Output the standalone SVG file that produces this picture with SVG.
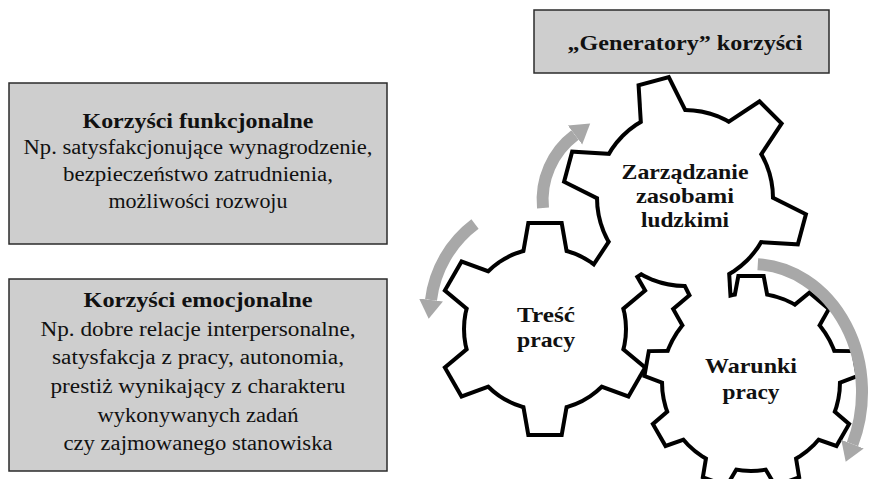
<svg xmlns="http://www.w3.org/2000/svg" width="869" height="479" viewBox="0 0 869 479">
<style>
.box{fill:#cecece;stroke:#2b2b2b;stroke-width:1.5}
.t{font-family:"Liberation Serif","Times New Roman",serif;font-size:20.5px;fill:#111;text-anchor:middle}
.b{font-weight:bold}
.h{font-size:22px}
.g{font-family:"Liberation Serif","Times New Roman",serif;font-size:21px;font-weight:bold;fill:#111;text-anchor:middle}
.gf{fill:#fff;stroke:none}
.arr{fill:none;stroke:#a8a8a8;stroke-width:12;marker-end:url(#ah)}
</style>
<defs>
<marker id="ah" markerUnits="userSpaceOnUse" markerWidth="20" markerHeight="26" viewBox="0 -13 20 26" refX="0" refY="0" orient="auto">
<path d="M0,-12 L19,0 L0,12 Z" fill="#a8a8a8"/>
</marker>
<polygon id="tA" points="70,-24 119,-14 119,14 70,24"/>
<polygon id="tB" points="64,-22 104,-15 104,15 64,22"/>
<polygon id="tC" points="72,-17 104,-11 104,11 72,17"/>
<g id="gearA">
<circle r="86"/>
<use href="#tA" transform="rotate(-105)"/>
<use href="#tA" transform="rotate(-45)"/>
<use href="#tA" transform="rotate(15)"/>
<use href="#tA" transform="rotate(75)"/>
<use href="#tA" transform="rotate(135)"/>
<use href="#tA" transform="rotate(195)"/>
</g>
<g id="gearB">
<circle r="79"/>
<use href="#tB" transform="rotate(-90)"/>
<use href="#tB" transform="rotate(-30)"/>
<use href="#tB" transform="rotate(30)"/>
<use href="#tB" transform="rotate(90)"/>
<use href="#tB" transform="rotate(150)"/>
<use href="#tB" transform="rotate(210)"/>
</g>
<g id="gearC">
<circle r="87"/>
<use href="#tC" transform="rotate(-90)"/>
<use href="#tC" transform="rotate(-50)"/>
<use href="#tC" transform="rotate(-10)"/>
<use href="#tC" transform="rotate(30)"/>
<use href="#tC" transform="rotate(70)"/>
<use href="#tC" transform="rotate(110)"/>
<use href="#tC" transform="rotate(150)"/>
<use href="#tC" transform="rotate(190)"/>
<use href="#tC" transform="rotate(230)"/>
</g>
</defs>

<g id="box-generatory">
<rect class="box" x="534" y="10" width="295" height="63"/>
<text class="t b h" x="685" y="50" textLength="235" lengthAdjust="spacingAndGlyphs">„Generatory” korzyści</text>
</g>

<g id="box-funkcjonalne">
<rect class="box" x="9" y="83" width="378" height="161"/>
<text class="t b" x="198" y="128" textLength="231" lengthAdjust="spacingAndGlyphs">Korzyści funkcjonalne</text>
<text class="t" x="198" y="154" textLength="349" lengthAdjust="spacingAndGlyphs">Np. satysfakcjonujące wynagrodzenie,</text>
<text class="t" x="198" y="181" textLength="270" lengthAdjust="spacingAndGlyphs">bezpieczeństwo zatrudnienia,</text>
<text class="t" x="198" y="208" textLength="179" lengthAdjust="spacingAndGlyphs">możliwości rozwoju</text>
</g>

<g id="box-emocjonalne">
<rect class="box" x="9" y="279" width="378" height="192"/>
<text class="t b" x="198" y="307" textLength="229" lengthAdjust="spacingAndGlyphs">Korzyści emocjonalne</text>
<text class="t" x="198" y="336" textLength="315" lengthAdjust="spacingAndGlyphs">Np. dobre relacje interpersonalne,</text>
<text class="t" x="198" y="364" textLength="292" lengthAdjust="spacingAndGlyphs">satysfakcja z pracy, autonomia,</text>
<text class="t" x="198" y="393" textLength="295" lengthAdjust="spacingAndGlyphs">prestiż wynikający z charakteru</text>
<text class="t" x="198" y="422" textLength="201" lengthAdjust="spacingAndGlyphs">wykonywanych zadań</text>
<text class="t" x="198" y="450" textLength="269" lengthAdjust="spacingAndGlyphs">czy zajmowanego stanowiska</text>
</g>

<g id="gear-outlines" fill="#000" stroke="#000" stroke-width="8" stroke-linejoin="miter">
<use href="#gearB" transform="translate(545,329)"/>
<use href="#gearC" transform="translate(751,382)"/>
<use href="#gearA" transform="translate(685,198)"/>
</g>

<g id="gear-tresc">
<use href="#gearB" class="gf" transform="translate(545,329)"/>
<text class="g" x="546" y="322" textLength="58" lengthAdjust="spacingAndGlyphs">Treść</text>
<text class="g" x="546" y="347" textLength="58" lengthAdjust="spacingAndGlyphs">pracy</text>
</g>

<g id="gear-warunki">
<use href="#gearC" class="gf" transform="translate(751,382)"/>
<text class="g" x="751" y="373" textLength="92" lengthAdjust="spacingAndGlyphs">Warunki</text>
<text class="g" x="751" y="399" textLength="57" lengthAdjust="spacingAndGlyphs">pracy</text>
</g>

<g id="gear-zarzadzanie">
<use href="#gearA" class="gf" transform="translate(685,198)"/>
<text class="g" x="685" y="179" textLength="127" lengthAdjust="spacingAndGlyphs">Zarządzanie</text>
<text class="g" x="685" y="203" textLength="98" lengthAdjust="spacingAndGlyphs">zasobami</text>
<text class="g" x="685" y="227" textLength="88" lengthAdjust="spacingAndGlyphs">ludzkimi</text>
</g>

<g id="connectors">
<path class="arr" d="M543,208 A81,81 0 0 1 575,135"/>
<path class="arr" d="M475,224 A112,112 0 0 0 431,300"/>
<path class="arr" d="M757.8,264.2 A110,128 0 0 1 852.5,444.1"/>
</g>
</svg>
